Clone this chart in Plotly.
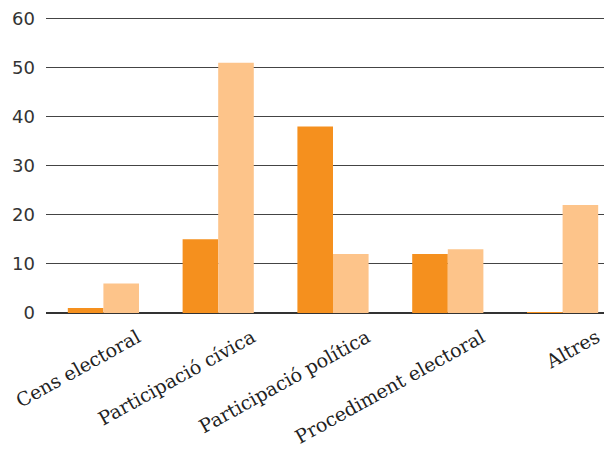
import plotly.graph_objects as go

categories = ["Cens electoral", "Participació cívica", "Participació política",
              "Procediment electoral", "Altres"]
serie_a = [1, 15, 38, 12, 0.2]
serie_b = [6, 51, 12, 13, 22]

c1 = "#F5901E"
c2 = "#FDC48A"

fig = go.Figure()
fig.add_trace(go.Bar(x=categories, y=serie_a, marker_color=c1, marker_line_width=0))
fig.add_trace(go.Bar(x=categories, y=serie_b, marker_color=c2, marker_line_width=0))

# the page body adds an 8px margin, so offsets are compensated here
fig.update_layout(
    width=612, height=454,
    margin=dict(l=38, r=0, t=9, b=149),
    paper_bgcolor="white", plot_bgcolor="white",
    barmode="group", bargap=0.38, bargroupgap=0,
    showlegend=False,
)
fig.update_xaxes(
    tickangle=-29, automargin=False,
    tickfont=dict(family="DejaVu Serif", size=19, color="#222"),
    showline=False, ticks="",
    ticklabelshift=34, ticklabelstandoff=9,
    ticklabeloverflow="allow",
)
fig.update_yaxes(
    range=[0, 60.3], dtick=10, automargin=False,
    gridcolor="#444", gridwidth=1,
    zeroline=True, zerolinecolor="#333", zerolinewidth=2,
    tickfont=dict(family="DejaVu Sans", size=18, color="#333"),
    ticklabelstandoff=10,
    ticklabeloverflow="allow",
)

fig.write_html("out.html")
